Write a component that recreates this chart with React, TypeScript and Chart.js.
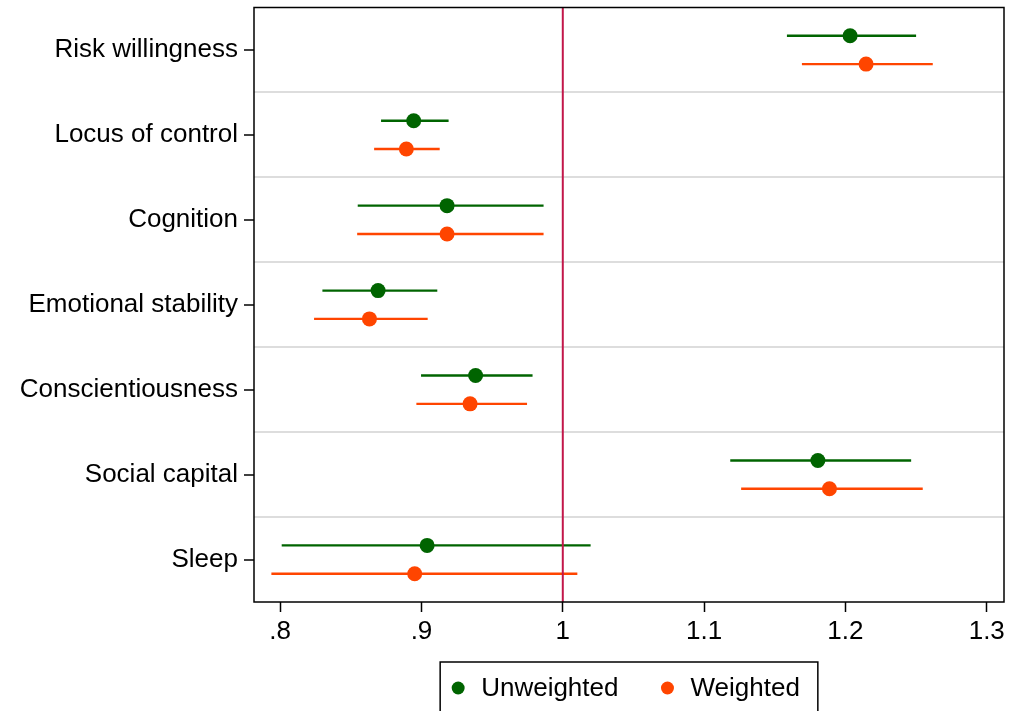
import React, { useEffect, useRef } from "react";
import { Chart, registerables } from "chart.js";

Chart.register(...registerables);

const categories = [
  "Risk willingness",
  "Locus of control",
  "Cognition",
  "Emotional stability",
  "Conscientiousness",
  "Social capital",
  "Sleep",
];
const unweightedEst = [1.2033, 0.8945, 0.9181, 0.8693, 0.9383, 1.1805, 0.904];
const unweightedLo = [1.1586, 0.8714, 0.8549, 0.8299, 0.8997, 1.1185, 0.8011];
const unweightedHi = [1.25, 0.9192, 0.9864, 0.9112, 0.9786, 1.2465, 1.0197];
const weightedEst = [1.2146, 0.8893, 0.9181, 0.8632, 0.9344, 1.1887, 0.8952];
const weightedLo = [1.1692, 0.8665, 0.8545, 0.824, 0.8964, 1.1262, 0.7938];
const weightedHi = [1.2618, 0.9129, 0.9864, 0.9044, 0.9747, 1.2547, 1.0103];
const xTicks = [0.8, 0.9, 1, 1.1, 1.2, 1.3];
const xTickLabels = [".8", ".9", "1", "1.1", "1.2", "1.3"];
const referenceValue = 1;
const seriesNames = ["Unweighted", "Weighted"];

const GREEN = "#006400";
const ORANGE = "#ff4500";
const REDLINE = "#c2174a";
const FONT = '"Liberation Sans", Arial, Helvetica, sans-serif';
const OFFSET = 1 / 6;

export default function App() {
  const ref = useRef<HTMLCanvasElement | null>(null);

  useEffect(() => {
    if (!ref.current) return;
    const errorBars = {
      id: "errorBars",
      beforeDatasetsDraw(chart: any) {
        const { ctx, scales } = chart;
        const xs = scales.x;
        const ys = scales.y;
        const sets = [
          { lo: unweightedLo, hi: unweightedHi, off: -OFFSET, color: GREEN },
          { lo: weightedLo, hi: weightedHi, off: OFFSET, color: ORANGE },
        ];
        ctx.save();
        ctx.lineWidth = 2.4;
        sets.forEach((s) => {
          ctx.strokeStyle = s.color;
          s.lo.forEach((lo, i) => {
            const y = ys.getPixelForValue(i + 1 + s.off);
            ctx.beginPath();
            ctx.moveTo(xs.getPixelForValue(lo), y);
            ctx.lineTo(xs.getPixelForValue(s.hi[i]), y);
            ctx.stroke();
          });
        });
        ctx.restore();
      },
    };
    const frameAndLegend = {
      id: "frameAndLegend",
      afterDraw(chart: any) {
        const { ctx, chartArea } = chart;
        ctx.save();
        ctx.strokeStyle = "#000";
        ctx.lineWidth = 1.5;
        ctx.strokeRect(
          chartArea.left,
          chartArea.top,
          chartArea.right - chartArea.left,
          chartArea.bottom - chartArea.top
        );
        // legend
        ctx.font = "26px " + FONT;
        const colors = [GREEN, ORANGE];
        const widths = seriesNames.map((n) => ctx.measureText(n).width);
        const padL = 18;
        const dotToText = 23;
        const between = 49;
        const total = padL + dotToText + widths[0] + between + dotToText + widths[1] + padL;
        const cx = (chartArea.left + chartArea.right) / 2;
        const left = cx - total / 2;
        const top = chartArea.bottom + 60;
        ctx.lineWidth = 1.5;
        ctx.strokeRect(left, top, total, 80);
        const cy = top + 26;
        let x = left + padL;
        ctx.textBaseline = "middle";
        ctx.textAlign = "left";
        seriesNames.forEach((n, i) => {
          ctx.fillStyle = colors[i];
          ctx.beginPath();
          ctx.arc(x, cy, 6.5, 0, Math.PI * 2);
          ctx.fill();
          ctx.fillStyle = "#000";
          ctx.fillText(n, x + dotToText, cy + 1);
          x += dotToText + widths[i] + between;
        });
        ctx.restore();
      },
    };

    const chart = new Chart(ref.current, {
      type: "scatter",
      data: {
        datasets: [
          {
            type: "line",
            label: "ref",
            data: [
              { x: referenceValue, y: 0.5 },
              { x: referenceValue, y: 7.5 },
            ],
            borderColor: REDLINE,
            borderWidth: 2,
            pointRadius: 0,
          } as any,
          {
            label: seriesNames[0],
            data: unweightedEst.map((v, i) => ({ x: v, y: i + 1 - OFFSET })),
            backgroundColor: GREEN,
            borderWidth: 0,
            pointRadius: 7.5,
          },
          {
            label: seriesNames[1],
            data: weightedEst.map((v, i) => ({ x: v, y: i + 1 + OFFSET })),
            backgroundColor: ORANGE,
            borderWidth: 0,
            pointRadius: 7.5,
          },
        ],
      },
      options: {
        animation: false,
        responsive: false,
        devicePixelRatio: 1,
        layout: { padding: { top: 7, right: 17, left: 0, bottom: 0 } },
        plugins: { legend: { display: false }, tooltip: { enabled: false } },
        scales: {
          x: {
            type: "linear",
            min: 0.7815,
            max: 1.3122,
            afterBuildTicks: (s: any) => {
              s.ticks = xTicks.map((v) => ({ value: v }));
            },
            afterFit: (s: any) => {
              s.height = 109;
              s.paddingLeft = 0;
              s.paddingRight = 0;
            },
            ticks: {
              autoSkip: false,
              maxRotation: 0,
              color: "#000",
              padding: 4,
              font: { family: FONT, size: 26 },
              callback: (v: any) => {
                const idx = xTicks.findIndex((t) => Math.abs(t - v) < 1e-9);
                return idx >= 0 ? xTickLabels[idx] : "";
              },
            },
            grid: {
              drawOnChartArea: false,
              drawTicks: true,
              tickLength: 10,
              tickColor: "#000",
              tickWidth: 1.5,
            },
            border: { display: false },
          },
          y: {
            type: "linear",
            min: 0.5,
            max: 7.5,
            reverse: true,
            afterBuildTicks: (s: any) => {
              const t: any[] = [];
              for (let i = 1; i <= categories.length; i++) {
                t.push({ value: i });
                if (i < categories.length) t.push({ value: i + 0.5 });
              }
              s.ticks = t;
            },
            afterFit: (s: any) => {
              s.width = 254;
              s.paddingTop = 0;
              s.paddingBottom = 0;
            },
            ticks: {
              autoSkip: false,
              color: "#000",
              padding: 6,
              font: { family: FONT, size: 26 },
              callback: (v: any) =>
                Number.isInteger(v) ? categories[v - 1] : "",
            },
            grid: {
              drawOnChartArea: true,
              tickLength: 10,
              lineWidth: 2,
              color: (c: any) =>
                c.tick && Number.isInteger(c.tick.value) ? "rgba(0,0,0,0)" : "#dddddd",
              tickColor: (c: any) =>
                c.tick && Number.isInteger(c.tick.value) ? "#000" : "rgba(0,0,0,0)",
              tickWidth: 1.5,
            },
            border: { display: false },
          },
        },
      },
      plugins: [errorBars, frameAndLegend],
    });
    return () => chart.destroy();
  }, []);

  return (
    <div style={{ position: "fixed", left: 0, top: 0, width: 1021, height: 711, background: "#fff" }}>
      <canvas ref={ref} width={1021} height={711} style={{ display: "block" }} />
    </div>
  );
}
